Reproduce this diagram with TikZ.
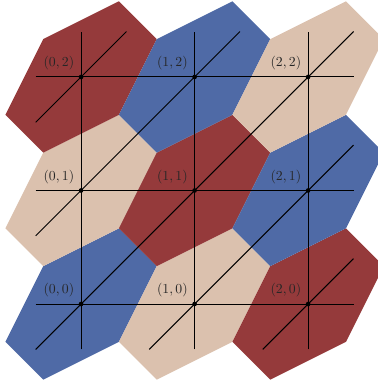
\documentclass[tikz,border=0pt]{standalone}
\usepackage{tikz}
\usetikzlibrary{calc}
\usepackage{amsmath}

\definecolor{cellred}{RGB}{149,58,59}
\definecolor{cellblue}{RGB}{79,106,166}
\definecolor{cellsand}{RGB}{219,193,174}

% one hexagonal cell round a lattice point
\newcommand{\hexcell}[3]{%
  \fill[#1, shift={(#2,#3)}] (-1/3,1/3) -- (1/3,2/3) -- (2/3,1/3)
    -- (1/3,-1/3) -- (-1/3,-2/3) -- (-2/3,-1/3) -- cycle;}

\begin{document}
\begin{tikzpicture}[scale=2.9,
  dot/.style={circle, fill=black, inner sep=0pt, minimum size=3.4pt},
  lbl/.style={above left=1.5pt, text=black!85}]
\useasboundingbox (-0.714,-0.678) rectangle (2.608,2.678);

% Cells
\hexcell{cellblue}{0}{0}
\hexcell{cellsand}{1}{0}
\hexcell{cellred}{2}{0}
\hexcell{cellsand}{0}{1}
\hexcell{cellred}{1}{1}
\hexcell{cellblue}{2}{1}
\hexcell{cellred}{0}{2}
\hexcell{cellblue}{1}{2}
\hexcell{cellsand}{2}{2}

% Lattice points
\node[dot] (p00) at (0,0) {};
\node[dot] (p10) at (1,0) {};
\node[dot] (p20) at (2,0) {};
\node[dot] (p01) at (0,1) {};
\node[dot] (p11) at (1,1) {};
\node[dot] (p21) at (2,1) {};
\node[dot] (p02) at (0,2) {};
\node[dot] (p12) at (1,2) {};
\node[dot] (p22) at (2,2) {};

% Horizontal lines
\draw[line width=0.7pt] ($(p00)+(-0.4,0)$) -- ($(p20)+(0.4,0)$);
\draw[line width=0.7pt] ($(p01)+(-0.4,0)$) -- ($(p21)+(0.4,0)$);
\draw[line width=0.7pt] ($(p02)+(-0.4,0)$) -- ($(p22)+(0.4,0)$);

% Vertical lines
\draw[line width=0.7pt] ($(p00)+(0,-0.4)$) -- ($(p02)+(0,0.4)$);
\draw[line width=0.7pt] ($(p10)+(0,-0.4)$) -- ($(p12)+(0,0.4)$);
\draw[line width=0.7pt] ($(p20)+(0,-0.4)$) -- ($(p22)+(0,0.4)$);

% Diagonal lines
\draw[line width=0.7pt] ($(p02)+(-0.4,-0.4)$) -- ($(p02)+(0.4,0.4)$);
\draw[line width=0.7pt] ($(p01)+(-0.4,-0.4)$) -- ($(p12)+(0.4,0.4)$);
\draw[line width=0.7pt] ($(p00)+(-0.4,-0.4)$) -- ($(p22)+(0.4,0.4)$);
\draw[line width=0.7pt] ($(p10)+(-0.4,-0.4)$) -- ($(p21)+(0.4,0.4)$);
\draw[line width=0.7pt] ($(p20)+(-0.4,-0.4)$) -- ($(p20)+(0.4,0.4)$);

% Labels
\node[lbl] (l00) at (p00) {$(0,0)$};
\node[lbl] (l10) at (p10) {$(1,0)$};
\node[lbl] (l20) at (p20) {$(2,0)$};
\node[lbl] (l01) at (p01) {$(0,1)$};
\node[lbl] (l11) at (p11) {$(1,1)$};
\node[lbl] (l21) at (p21) {$(2,1)$};
\node[lbl] (l02) at (p02) {$(0,2)$};
\node[lbl] (l12) at (p12) {$(1,2)$};
\node[lbl] (l22) at (p22) {$(2,2)$};
\end{tikzpicture}
\end{document}
